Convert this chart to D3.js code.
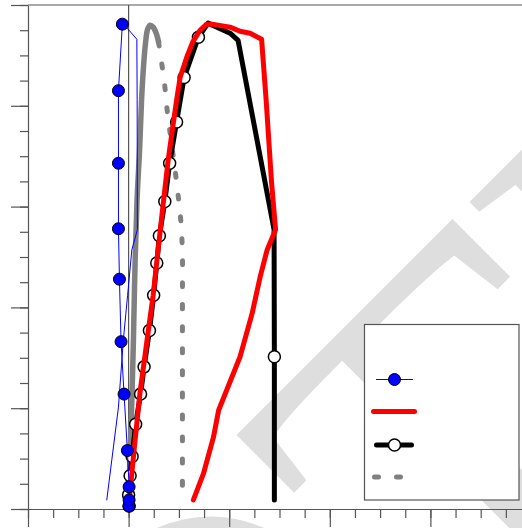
<!DOCTYPE html>
<html>
<head>
<meta charset="utf-8">
<script src="https://cdn.jsdelivr.net/npm/d3@7"></script>
<style>
  body { margin: 0; background: #fff; }
  svg { display: block; overflow: hidden; }
</style>
</head>
<body>
<div id="chart"></div>
<script>
// --- data ---
// blue series, rising branch (with markers)
const blueUpX = [0.005, 0.005, 0.005, -0.012, -0.045, -0.075, -0.091, -0.101, -0.101, -0.101, -0.062];
const blueUpY = [0.03, 0.09, 0.22, 0.58, 1.14, 1.66, 2.28, 2.78, 3.43, 4.15, 4.81];
// blue series, return branch (line only)
const blueDownX = [-0.062, -0.005, 0.082, 0.085, 0.087, 0.032, -0.010, -0.052, -0.101, -0.217];
const blueDownY = [4.81, 4.76, 4.66, 4.06, 2.77, 2.57, 2.12, 1.68, 1.01, 0.09];

// gray solid (rising) and gray dashed (falling)
const graySolidX = [0.0, 0.01, 0.02, 0.035, 0.048, 0.065, 0.084, 0.109, 0.129, 0.149, 0.169, 0.189, 0.214, 0.244, 0.278, 0.298];
const graySolidY = [0.04, 0.39, 0.68, 1.18, 1.68, 2.47, 3.07, 3.56, 4.06, 4.40, 4.63, 4.76, 4.80, 4.78, 4.71, 4.63];
const grayDashX = [0.298, 0.328, 0.358, 0.383, 0.422, 0.462, 0.497, 0.522, 0.535, 0.535, 0.535];
const grayDashY = [4.63, 4.43, 4.21, 3.96, 3.66, 3.36, 3.07, 2.82, 2.52, 2.07, 0.19];

// red series
const redX = [0.005, 0.055, 0.114, 0.184, 0.244, 0.293, 0.343, 0.393, 0.442, 0.482, 0.512, 0.577, 0.641, 0.711, 0.775, 0.830,
              1.009, 1.108, 1.208, 1.322, 1.367, 1.421, 1.461, 1.377, 1.307, 1.228, 1.108, 0.895, 0.843, 0.744, 0.644];
const redY = [0.08, 0.59, 1.16, 1.68, 2.12, 2.57, 3.02, 3.46, 3.81, 4.09, 4.28, 4.48, 4.64, 4.75, 4.81, 4.81,
              4.78, 4.74, 4.72, 4.66, 4.06, 3.24, 2.77, 2.57, 2.30, 1.94, 1.51, 0.98, 0.71, 0.35, 0.09];

// black series (line) and its hollow markers
const blackX = [0.005, 0.0, 0.015, 0.035, 0.070, 0.119, 0.154, 0.207, 0.249, 0.280, 0.306, 0.360, 0.408, 0.477, 0.552, 0.694,
                0.790, 1.009, 1.088, 1.446, 1.449, 1.449];
const blackY = [0.03, 0.14, 0.33, 0.52, 0.84, 1.14, 1.41, 1.77, 2.12, 2.44, 2.71, 3.05, 3.43, 3.84, 4.28, 4.68,
                4.82, 4.72, 4.65, 2.77, 1.51, 0.09];
const blackMarkX = [0.005, 0.0, 0.015, 0.035, 0.070, 0.119, 0.154, 0.207, 0.249, 0.280, 0.306, 0.360, 0.408, 0.477, 0.552, 0.694, 1.449];
const blackMarkY = [0.03, 0.14, 0.33, 0.52, 0.84, 1.14, 1.41, 1.77, 2.12, 2.44, 2.71, 3.05, 3.43, 3.84, 4.28, 4.68, 1.51];

// axis ticks
const xMajor = [-1, 0, 1, 2, 3, 4];
const yMajor = [0, 1, 2, 3, 4, 5];
const xMinor = d3.range(-1, 4.01, 0.25);
const yMinor = d3.range(0, 5.01, 0.25);

// --- layout ---
const width = 522, height = 528;
const axisColor = "#555";

const svg = d3.select("#chart")
    .append("svg")
    .attr("width", width)
    .attr("height", height);

const x = d3.scaleLinear().domain([-1, 4]).range([28, 531]);
const y = d3.scaleLinear().domain([0, 5]).range([509, 5]);

const pts = (xs, ys) => xs.map((v, i) => [v, ys[i]]);

// watermark (light gray, rotated)
svg.append("g")
   .attr("transform", "translate(474.8,687.5) rotate(-45)")
   .append("text")
   .attr("x", -765)
   .attr("y", 0)
   .attr("font-family", "Liberation Serif, Times New Roman, serif")
   .attr("font-size", 530)
   .style("font-kerning", "none")
   .attr("fill", "#dedede")
   .text("NOTE");

// axes: minor ticks first, then major
function styleAxis(g) {
    g.selectAll("line, path").attr("stroke", axisColor).attr("stroke-width", 1.2);
}

svg.append("g")
   .attr("transform", `translate(${x(-1)},0)`)
   .call(d3.axisLeft(y).tickValues(yMinor).tickSize(8).tickSizeOuter(0).tickFormat(""))
   .call(styleAxis);
svg.append("g")
   .attr("transform", `translate(${x(-1)},0)`)
   .call(d3.axisLeft(y).tickValues(yMajor).tickSize(17).tickSizeOuter(0).tickFormat(""))
   .call(styleAxis)
   .select(".domain").remove();

svg.append("g")
   .attr("transform", `translate(0,${y(0)})`)
   .call(d3.axisBottom(x).tickValues(xMinor).tickSize(9).tickSizeOuter(0).tickFormat(""))
   .call(styleAxis);
svg.append("g")
   .attr("transform", `translate(0,${y(0)})`)
   .call(d3.axisBottom(x).tickValues(xMajor).tickSize(18).tickSizeOuter(0).tickFormat(""))
   .call(styleAxis)
   .select(".domain").remove();

// top border and zero line
svg.append("line")
   .attr("x1", x(-1)).attr("x2", x(4))
   .attr("y1", y(5)).attr("y2", y(5))
   .attr("stroke", axisColor).attr("stroke-width", 1.2);
svg.append("line")
   .attr("x1", x(0)).attr("x2", x(0))
   .attr("y1", y(0)).attr("y2", y(5))
   .attr("stroke", axisColor).attr("stroke-width", 1.2);

const line = d3.line().x(d => x(d[0])).y(d => y(d[1]));
const smooth = d3.line().x(d => x(d[0])).y(d => y(d[1])).curve(d3.curveCatmullRom);

function drawLine(data, gen, color, w, dash) {
    svg.append("path")
       .datum(data)
       .attr("d", gen)
       .attr("fill", "none")
       .attr("stroke", color)
       .attr("stroke-width", w)
       .attr("stroke-linejoin", "round")
       .attr("stroke-linecap", "round")
       .attr("stroke-dasharray", dash || null);
}

function drawMarkers(data, fill, sw) {
    svg.append("g")
       .selectAll("circle")
       .data(data)
       .enter()
       .append("circle")
       .attr("cx", d => x(d[0]))
       .attr("cy", d => y(d[1]))
       .attr("r", 6)
       .attr("fill", fill)
       .attr("stroke", "#000")
       .attr("stroke-width", sw);
}

// gray
drawLine(pts(graySolidX, graySolidY), smooth, "#808080", 5.5);
drawLine(pts(grayDashX, grayDashY), smooth, "#808080", 5, "4,18");

// black
drawLine(pts(blackX, blackY), line, "#000", 5);
drawMarkers(pts(blackMarkX, blackMarkY), "#fff", 1.5);

// red
drawLine(pts(redX, redY), line, "#ff0000", 5);

// blue
drawLine(pts(blueDownX, blueDownY), line, "#0000ff", 1);
drawLine(pts(blueUpX, blueUpY), line, "#0000ff", 1);
drawMarkers(pts(blueUpX, blueUpY), "#0000ff", 1);

// --- legend (no labels) ---
const legend = svg.append("g");
legend.append("rect")
   .attr("x", 364.5).attr("y", 324.5)
   .attr("width", 154.5).attr("height", 175.5)
   .attr("fill", "#fff")
   .attr("stroke", axisColor).attr("stroke-width", 1.2);

function legendLine(x1, x2, yy, color, w, dash) {
    legend.append("line")
       .attr("x1", x1).attr("x2", x2)
       .attr("y1", yy).attr("y2", yy)
       .attr("stroke", color).attr("stroke-width", w)
       .attr("stroke-linecap", w > 2 ? "round" : "butt")
       .attr("stroke-dasharray", dash || null);
}
function legendMarker(cx, cy, fill, sw) {
    legend.append("circle")
       .attr("cx", cx).attr("cy", cy).attr("r", 6)
       .attr("fill", fill).attr("stroke", "#000").attr("stroke-width", sw);
}

legendLine(376, 413, 379.5, "#0000ff", 1);
legendMarker(394.5, 379.5, "#0000ff", 1);
legendLine(373.5, 414.5, 411.5, "#ff0000", 5);
legendLine(376.5, 411.5, 445, "#000", 5);
legendMarker(394.5, 445, "#fff", 1.5);
legendLine(374.5, 401, 477, "#808080", 5, "4,18");
</script>
</body>
</html>
